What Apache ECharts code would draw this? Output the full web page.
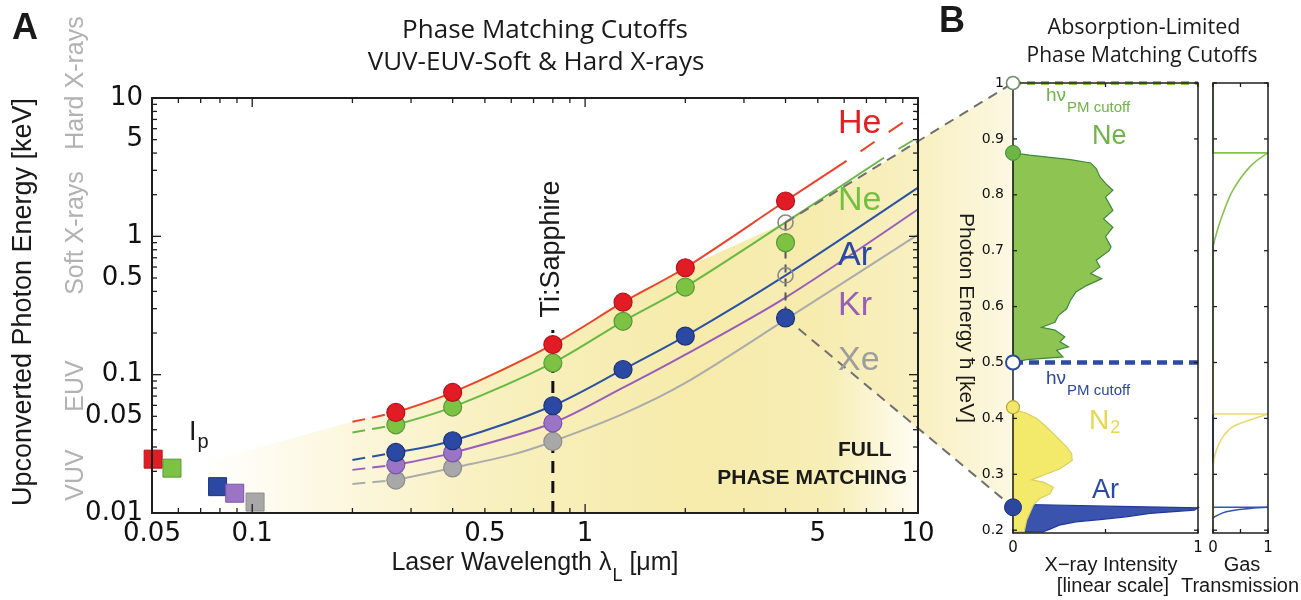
<!DOCTYPE html>
<html>
<head>
<meta charset="utf-8">
<script src="https://cdn.jsdelivr.net/npm/echarts@6/dist/echarts.min.js"></script>
<style>
  html, body { margin: 0; background: #fff; }
  #chart { width: 1301px; height: 600px; }
</style>
</head>
<body>
<div id="chart"></div>
<script>
// ---- panel A: measured cutoffs (filled circles), keV vs laser wavelength (um)
const wavelengths = [0.27, 0.4, 0.8, 1.3, 2, 4]
const heMeasured = [0.0533, 0.0744, 0.165, 0.334, 0.593, 1.80]
const neMeasured = [0.0434, 0.0583, 0.1216, 0.243, 0.43, 0.90]
const arMeasured = [0.0274, 0.0333, 0.0596, 0.109, 0.19, 0.257]
const krMeasured = [0.0223, 0.0272, 0.0447]
const xeMeasured = [0.0173, 0.0212, 0.0329]
// full phase matching cutoff at 4 um (open circles): Ne, Ar
const predictedL = 4
const predicted4um = [1.26, 0.522]

// cutoff curves
const heCurveL = [0.2, 0.27, 0.4, 0.8, 1.3, 2, 4, 6.1, 10]
const heCurveE = [0.0456, 0.0533, 0.0744, 0.165, 0.334, 0.593, 1.80, 3.51, 7.9]
const neCurveL = [0.2, 0.27, 0.4, 0.8, 1.3, 2, 4, 7.9, 10]
const neCurveE = [0.0382, 0.0434, 0.0583, 0.1216, 0.243, 0.43, 1.26, 3.7, 5.2]
const arCurveL = [0.2, 0.27, 0.4, 0.8, 1.3, 2, 4, 10]
const arCurveE = [0.0242, 0.0274, 0.0333, 0.0596, 0.109, 0.19, 0.522, 2.25]
const krCurveL = [0.2, 0.27, 0.4, 0.8, 1.3, 2, 4, 10]
const krCurveE = [0.0205, 0.0223, 0.0272, 0.0447, 0.0805, 0.1396, 0.361, 1.57]
const xeCurveL = [0.2, 0.27, 0.4, 0.6, 0.8, 1.3, 2, 4, 10]
const xeCurveE = [0.0162, 0.0173, 0.0212, 0.0263, 0.0329, 0.052, 0.0871, 0.25, 1.03]

// ionization potentials (squares): He, Ne, Ar, Kr, Xe
const ipWavelength = [0.0504, 0.0574, 0.0787, 0.0886, 0.102]
const ipEnergy = [0.0245, 0.0211, 0.0155, 0.0139, 0.0120]

// upper edge of the shaded phase matching region
const shadeL = [0.07, 0.2, 0.27, 0.4, 0.8, 1.3, 2, 4, 10]
const shadeE = [0.023, 0.0456, 0.0533, 0.0744, 0.165, 0.334, 0.593, 1.26, 4.9]

// Ti:Sapphire marker
const tiSapphireL = 0.8
const tiSapphireTop = 0.21

const xTickLabels = [0.05, 0.1, 0.5, 1, 5, 10]
const xMinorTicks = [0.06, 0.07, 0.08, 0.09, 0.1, 0.2, 0.3, 0.4, 0.5, 0.6, 0.7, 0.8, 0.9, 1, 2, 3, 4, 5, 6, 7, 8, 9]
const yTickLabels = [0.01, 0.05, 0.1, 0.5, 1, 5, 10]
const yMinorTicks = [0.02, 0.03, 0.04, 0.05, 0.06, 0.07, 0.08, 0.09, 0.1, 0.2, 0.3, 0.4, 0.5, 0.6, 0.7, 0.8, 0.9, 1, 2, 3, 4, 5, 6, 7, 8, 9]
const majorTicks = [0.1, 1, 10]

// ---- panel B: spectra (intensity, photon energy keV)
const neSpecI = [0, 0.09, 0.31, 0.42, 0.45, 0.47, 0.51, 0.54, 0.50, 0.54, 0.49, 0.54, 0.50, 0.53, 0.52, 0.45, 0.47, 0.42, 0.48, 0.40, 0.34, 0.31, 0.29, 0.245, 0.227, 0.155, 0.227, 0.28, 0.254, 0.30, 0.236, 0.27, 0.074, 0]
const neSpecE = [0.875, 0.871, 0.863, 0.857, 0.847, 0.832, 0.817, 0.808, 0.796, 0.772, 0.757, 0.742, 0.725, 0.707, 0.700, 0.683, 0.671, 0.659, 0.650, 0.638, 0.626, 0.611, 0.596, 0.584, 0.572, 0.563, 0.558, 0.546, 0.537, 0.528, 0.522, 0.510, 0.505, 0.500]
const n2SpecI = [0, 0.02, 0.074, 0.128, 0.18, 0.236, 0.29, 0.317, 0.32, 0.254, 0.10, 0.164, 0.218, 0.20, 0.146, 0.11, 0.074, 0.06, 0]
const n2SpecE = [0.42, 0.414, 0.409, 0.400, 0.385, 0.367, 0.349, 0.337, 0.325, 0.310, 0.290, 0.286, 0.277, 0.265, 0.257, 0.245, 0.218, 0.197, 0.197]
const arSpecI = [0, 0.09, 0.5, 1.0, 0.98, 0.74, 0.61, 0.47, 0.34, 0.25, 0.2, 0.16, 0]
const arSpecE = [0.245, 0.246, 0.243, 0.240, 0.236, 0.230, 0.224, 0.219, 0.215, 0.209, 0.202, 0.197, 0.197]
// phase matching cutoffs (dashed) and absorption edges (dots)
const neCutoffB = 1.0
const arCutoffB = 0.5
const neEdgeB = 0.875
const n2EdgeB = 0.42
const arEdgeB = 0.241
// gas transmission curves
const neTransI = [1, 0.67, 0.36, 0.18, 0.06, 0]
const neTransE = [0.875, 0.85, 0.808, 0.766, 0.73, 0.707]
const n2TransI = [1, 0.67, 0.36, 0.18, 0.06, 0]
const n2TransE = [0.408, 0.397, 0.385, 0.367, 0.343, 0.313]
const arTransI = [1, 0.67, 0.24, 0.03, 0]
const arTransE = [0.241, 0.239, 0.233, 0.224, 0.221]
const bTicks = [0.2, 0.3, 0.4, 0.5, 0.6, 0.7, 0.8, 0.9, 1]
const bXTicks = [0, 0.5, 1]

const AX = '#1e1e1e'
const SANS = 'Liberation Sans, Arial, sans-serif'
const NUM = 'DejaVu Sans, sans-serif'
const TITLE = 'Open Sans, sans-serif'

const chart = echarts.init(document.getElementById('chart'))

function fmtLog (v) {
  return String(parseFloat(Math.pow(10, v).toPrecision(3)))
}

function pairs (L, E, from, to) {
  const out = []
  L.forEach((l, i) => {
    if (l >= from && l <= to) out.push([l, E[i]])
  })
  return out
}

function valueAxis (gridIndex, position, min, max, labels, fmt, labelStyle) {
  return {
    type: 'value',
    gridIndex,
    position,
    min,
    max,
    z: 5,
    silent: true,
    axisLine: { show: true, onZero: false, lineStyle: { color: AX, width: gridIndex === 0 ? 2 : 1.5 } },
    axisTick: { show: false },
    axisLabel: labels ? Object.assign({ show: true, customValues: labels, formatter: fmt, color: '#111' }, labelStyle) : { show: false },
    splitLine: { show: false }
  }
}

function curve (L, E, color, endSolid) {
  const list = []
  list.push({
    type: 'line', xAxisIndex: 0, yAxisIndex: 0, z: 2, silent: true, symbol: 'none', smooth: 0.3,
    data: pairs(L, E, 0, 0.27),
    lineStyle: { color, width: 2, type: [13, 7] }
  })
  list.push({
    type: 'line', xAxisIndex: 0, yAxisIndex: 0, z: 2, silent: true, symbol: 'none', smooth: 0.3,
    data: pairs(L, E, 0.27, endSolid),
    lineStyle: { color, width: 2 }
  })
  if (endSolid < 10) {
    list.push({
      type: 'line', xAxisIndex: 0, yAxisIndex: 0, z: 2, silent: true, symbol: 'none',
      data: pairs(L, E, endSolid, 10),
      lineStyle: { color, width: 2, type: [17, 17], dashOffset: 17 }
    })
  }
  return list
}

function dots (values, color, border) {
  return {
    type: 'scatter', xAxisIndex: 0, yAxisIndex: 0, z: 4, silent: true, clip: false,
    symbol: 'circle', symbolSize: 18,
    data: values.map((v, i) => [wavelengths[i], v]),
    itemStyle: { color, borderColor: border, borderWidth: 1.2, opacity: 1 }
  }
}

function spectrum (I, E, fill, stroke, z) {
  const data = I.map((v, i) => [v, E[i]])
  return {
    type: 'custom', xAxisIndex: 3, yAxisIndex: 3, z, silent: true, data,
    renderItem: (params, api) => {
      if (params.dataIndex !== 0) return null
      return {
        type: 'polygon',
        shape: { points: data.map(d => api.coord(d)) },
        style: { fill, stroke, lineWidth: 1.2 }
      }
    }
  }
}

function trans (I, E, color, z, smooth) {
  return {
    type: 'line', xAxisIndex: 5, yAxisIndex: 5, z, silent: true, symbol: 'none', clip: false,
    smooth: smooth ? 0.4 : false,
    data: I.map((v, i) => [v, E[i]]),
    lineStyle: { color, width: 1.6 }
  }
}

const shadeGradient = new echarts.graphic.LinearGradient(0, 0, 1, 0, [
  { offset: 0, color: 'rgba(255,255,255,1)' },
  { offset: 0.2, color: '#fcf7de' },
  { offset: 0.4, color: '#f8f0bf' },
  { offset: 0.7, color: '#f6ebaa' },
  { offset: 0.88, color: '#f7eeb7' },
  { offset: 1, color: '#fffdf4' }
])

const option = {
  animation: false,
  backgroundColor: '#fff',
  grid: [
    { left: 152, top: 98, width: 766, height: 415, outerBoundsMode: 'none' },
    { left: 1013, top: 83, width: 185, height: 450, outerBoundsMode: 'none' },
    { left: 1213, top: 83, width: 55, height: 450, outerBoundsMode: 'none' }
  ],
  xAxis: [
    { type: 'log', gridIndex: 0, min: 0.05, max: 10, show: false },
    valueAxis(0, 'bottom', Math.log10(0.05), Math.log10(10), xTickLabels.map(Math.log10), fmtLog,
      { fontSize: 26, fontFamily: NUM, margin: 8 }),
    valueAxis(0, 'top', Math.log10(0.05), Math.log10(10)),
    valueAxis(1, 'bottom', 0, 1, [0, 1], v => String(v), { fontSize: 15, fontFamily: NUM, margin: 8 }),
    valueAxis(1, 'top', 0, 1),
    valueAxis(2, 'bottom', 0, 1, [0, 1], v => String(v), { fontSize: 15, fontFamily: NUM, margin: 8 }),
    valueAxis(2, 'top', 0, 1)
  ],
  yAxis: [
    { type: 'log', gridIndex: 0, min: 0.01, max: 10, show: false },
    valueAxis(0, 'left', Math.log10(0.01), Math.log10(10), yTickLabels.map(Math.log10), fmtLog,
      { fontSize: 26, fontFamily: NUM, margin: 9 }),
    valueAxis(0, 'right', Math.log10(0.01), Math.log10(10)),
    valueAxis(1, 'left', 0.195, 1, bTicks, v => String(parseFloat(v.toFixed(1))), { fontSize: 14, fontFamily: NUM, margin: 9 }),
    valueAxis(1, 'right', 0.195, 1),
    valueAxis(2, 'left', 0.195, 1),
    valueAxis(2, 'right', 0.195, 1)
  ],
  series: [
    // shaded phase matching region
    {
      type: 'line', xAxisIndex: 0, yAxisIndex: 0, z: 0, silent: true, symbol: 'none',
      data: shadeL.map((l, i) => [l, shadeE[i]]),
      lineStyle: { width: 0, opacity: 0 },
      areaStyle: { origin: 'start', color: shadeGradient, opacity: 1 }
    },
    // Ti:Sapphire wavelength
    {
      type: 'line', xAxisIndex: 0, yAxisIndex: 0, z: 3, silent: true, symbol: 'none',
      data: [[tiSapphireL, 0.01], [tiSapphireL, tiSapphireTop]],
      lineStyle: { color: '#111', width: 3, type: [12, 8] }
    },
    ...curve(xeCurveL, xeCurveE, '#ababab', 10),
    ...curve(krCurveL, krCurveE, '#9a5cbc', 10),
    ...curve(arCurveL, arCurveE, '#2c52a3', 10),
    ...curve(neCurveL, neCurveE, '#68b944', 7.9),
    ...curve(heCurveL, heCurveE, '#ec4329', 6.1),
    // 4 um vertical marker
    {
      type: 'line', xAxisIndex: 0, yAxisIndex: 0, z: 3, silent: true, symbol: 'none',
      data: [[predictedL, predicted4um[0]], [predictedL, arMeasured[5]]],
      lineStyle: { color: '#555', width: 2, type: [8, 6] }
    },
    dots(xeMeasured, '#a8a8a8', '#8c8c8c'),
    dots(krMeasured, '#9b74c6', '#7b55a8'),
    dots(arMeasured, '#2b48a2', '#1c3278'),
    dots(neMeasured, '#7dc243', '#58993a'),
    dots(heMeasured, '#e11c24', '#b3131b'),
    {
      type: 'scatter', xAxisIndex: 0, yAxisIndex: 0, z: 5, silent: true, clip: false,
      symbol: 'circle', symbolSize: 15,
      data: predicted4um.map(v => [predictedL, v]),
      itemStyle: { color: 'rgba(255,255,255,0)', borderColor: '#8a8a8a', borderWidth: 1.6, opacity: 1 }
    },
    {
      type: 'scatter', xAxisIndex: 0, yAxisIndex: 0, z: 4, silent: true, clip: false,
      symbol: 'rect', symbolSize: 18,
      data: ipWavelength.map((l, i) => ({
        value: [l, ipEnergy[i]],
        itemStyle: {
          color: ['#e11c24', '#7dc243', '#2b48a2', '#9b74c6', '#a8a8a8'][i],
          borderColor: ['#b3131b', '#58993a', '#1c3278', '#7b55a8', '#8c8c8c'][i],
          borderWidth: 1,
          opacity: 1
        }
      }))
    },
    // panel B spectra
    spectrum(neSpecI, neSpecE, '#8dc452', '#3f8a39', 2),
    spectrum(arSpecI, arSpecE, '#3a53ad', '#22399a', 2),
    spectrum(n2SpecI, n2SpecE, '#f3ea6c', '#dcd05a', 3),
    {
      type: 'line', xAxisIndex: 3, yAxisIndex: 3, z: 4, silent: true, symbol: 'none', clip: false,
      data: [[0, neCutoffB], [1, neCutoffB]],
      lineStyle: { color: '#8cc63f', width: 4, type: [8, 6] }
    },
    {
      type: 'line', xAxisIndex: 3, yAxisIndex: 3, z: 4, silent: true, symbol: 'none', clip: false,
      data: [[0, arCutoffB], [1, arCutoffB]],
      lineStyle: { color: '#2c4aa3', width: 4.5, type: [10, 6] }
    },
    {
      type: 'scatter', xAxisIndex: 3, yAxisIndex: 3, z: 6, silent: true, clip: false,
      symbol: 'circle',
      data: [
        { value: [0, neCutoffB], symbolSize: 13, itemStyle: { color: '#fff', borderColor: '#6f8f6a', borderWidth: 1.6, opacity: 1 } },
        { value: [0, neEdgeB], symbolSize: 15, itemStyle: { color: '#6db544', borderColor: '#3f8a35', borderWidth: 1, opacity: 1 } },
        { value: [0, arCutoffB], symbolSize: 14, itemStyle: { color: '#fff', borderColor: '#2c4a9e', borderWidth: 2, opacity: 1 } },
        { value: [0, n2EdgeB], symbolSize: 13, itemStyle: { color: '#f3e76a', borderColor: '#b5a53e', borderWidth: 1.2, opacity: 1 } },
        { value: [0, arEdgeB], symbolSize: 17, itemStyle: { color: '#2b47a0', borderColor: '#1c3278', borderWidth: 1, opacity: 1 } }
      ]
    },
    // gas transmission
    trans([0, 0, 1], [1, neEdgeB, neEdgeB], '#86c34a', 2, false),
    trans(neTransI, neTransE, '#86c34a', 2, true),
    trans([0, 0], [neTransE[neTransE.length - 1], 0.195], '#86c34a', 2, false),
    trans([0, 0, 1], [0.408, arEdgeB, arEdgeB], '#3354b0', 3, false),
    trans(arTransI, arTransE, '#3354b0', 3, true),
    trans([0, 0], [arTransE[arTransE.length - 1], 0.195], '#3354b0', 3, false),
    trans([0, 0, 1], [0.5, n2TransE[0], n2TransE[0]], '#ead776', 4, false),
    trans(n2TransI, n2TransE, '#ead776', 4, true),
    trans([0, 0], [n2TransE[n2TransE.length - 1], 0.195], '#e3cf7a', 4, false)
  ]
}

chart.setOption(option)

function txt (text, x, y, o) {
  o = o || {}
  return {
    type: 'text', x, y, z: 10, silent: true, rotation: o.rotation || 0,
    style: {
      text,
      fill: o.color || '#1a1a1a',
      fontSize: o.size || 20,
      fontFamily: o.family || SANS,
      fontWeight: o.weight || 'normal',
      align: o.align || 'center',
      verticalAlign: 'middle',
      textAlign: o.align || 'center',
      textVerticalAlign: 'middle',
      rich: o.rich
    }
  }
}

function subRich (main, sub, pad, family) {
  return {
    a: { fontSize: main, fontFamily: family || SANS },
    b: { fontSize: sub, fontFamily: family || SANS, padding: [pad, 0, 0, 1] }
  }
}

// inward tick marks on all four sides of a frame, placed through the axes' scales
function frameTicks (xi, yi, xTicks, yTicks, xRef, yRef, lenOf) {
  const out = []
  const lo = chart.convertToPixel({ xAxisIndex: xi, yAxisIndex: yi }, [xRef[0], yRef[0]])
  const hi = chart.convertToPixel({ xAxisIndex: xi, yAxisIndex: yi }, [xRef[1], yRef[1]])
  const line = (x1, y1, x2, y2) => ({
    type: 'line', z: 6, silent: true,
    shape: { x1, y1, x2, y2 },
    style: { stroke: AX, lineWidth: 1.3 }
  })
  xTicks.forEach(v => {
    const x = chart.convertToPixel({ xAxisIndex: xi, yAxisIndex: yi }, [v, yRef[0]])[0]
    const len = lenOf(v)
    out.push(line(x, lo[1], x, lo[1] - len), line(x, hi[1], x, hi[1] + len))
  })
  yTicks.forEach(v => {
    const y = chart.convertToPixel({ xAxisIndex: xi, yAxisIndex: yi }, [xRef[0], v])[1]
    const len = lenOf(v)
    out.push(line(lo[0], y, lo[0] + len, y), line(hi[0], y, hi[0] - len, y))
  })
  return out
}

// zoom connection between panels
const aTop = chart.convertToPixel({ xAxisIndex: 0, yAxisIndex: 0 }, [predictedL, predicted4um[0]])
const aBot = chart.convertToPixel({ xAxisIndex: 0, yAxisIndex: 0 }, [predictedL, arMeasured[5]])
const bTop = chart.convertToPixel({ xAxisIndex: 3, yAxisIndex: 3 }, [0, neCutoffB])
const bBot = chart.convertToPixel({ xAxisIndex: 3, yAxisIndex: 3 }, [0, arEdgeB])

const zoomFill = new echarts.graphic.LinearGradient(0, 0, 1, 0, [
  { offset: 0, color: '#f6ebaa' },
  { offset: 0.6, color: '#f8f0c2' },
  { offset: 1, color: '#fcf8e2' }
])

const GREY = '#b2b2b2'
const graphics = [
  { type: 'polygon', z: 1, silent: true, shape: { points: [aTop, bTop, bBot, aBot] }, style: { fill: zoomFill } },
  { type: 'polyline', z: 3, silent: true, shape: { points: [aTop, bTop] }, style: { stroke: '#707070', lineWidth: 2, lineDash: [10, 7], fill: null } },
  { type: 'polyline', z: 3, silent: true, shape: { points: [aBot, bBot] }, style: { stroke: '#707070', lineWidth: 2, lineDash: [10, 7], fill: null } },

  ...frameTicks(0, 0, xMinorTicks, yMinorTicks, [0.05, 10], [0.01, 10], v => (majorTicks.includes(v) ? 9 : 5)),
  ...frameTicks(3, 3, bXTicks, bTicks, [0, 1], [0.195, 1], () => 4),
  ...frameTicks(5, 5, bXTicks, bTicks, [0, 1], [0.195, 1], () => 4),

  txt('A', 25, 29, { size: 36, weight: 'bold' }),
  txt('B', 952, 22, { size: 36, weight: 'bold' }),
  txt('Phase Matching Cutoffs', 545, 31, { size: 26, family: TITLE }),
  txt('VUV-EUV-Soft & Hard X-rays', 536, 63, { size: 26, family: TITLE }),
  txt('Upconverted Photon Energy [keV]', 24, 302, { size: 27, rotation: Math.PI / 2 }),
  txt('Hard X-rays', 76, 83, { size: 25, color: GREY, rotation: Math.PI / 2 }),
  txt('Soft X-rays', 76, 233, { size: 25, color: GREY, rotation: Math.PI / 2 }),
  txt('EUV', 76, 386, { size: 25, color: GREY, rotation: Math.PI / 2 }),
  txt('VUV', 76, 475, { size: 25, color: GREY, rotation: Math.PI / 2 }),
  txt('{a|Laser Wavelength λ}{b|L}{a| [μm]}', 535, 563, { rich: subRich(25, 18, 26) }),
  txt('{a|I}{b|p}', 189, 433, { align: 'left', rich: subRich(27, 20, 18) }),
  txt('He', 838, 124, { size: 34, color: '#e31e24', align: 'left' }),
  txt('Ne', 838, 201, { size: 34, color: '#72bf44', align: 'left' }),
  txt('Ar', 838, 256, { size: 34, color: '#2b48a2', align: 'left' }),
  txt('Kr', 838, 306, { size: 34, color: '#9561b5', align: 'left' }),
  txt('Xe', 838, 361, { size: 34, color: '#9d9d9d', align: 'left' }),
  txt('Ti:Sapphire', 552, 249, { size: 27, rotation: Math.PI / 2 }),
  txt('FULL', 838, 450, { size: 21, weight: 'bold', align: 'left' }),
  txt('PHASE MATCHING', 907, 478, { size: 21, weight: 'bold', align: 'right' }),

  txt('Absorption-Limited', 1144, 28, { size: 21.5, family: TITLE }),
  txt('Phase Matching Cutoffs', 1142, 56, { size: 21, family: TITLE }),
  txt('{a|hν}{b|PM cutoff}', 1046, 96, { align: 'left', color: '#6db544', rich: subRich(19, 15, 24) }),
  txt('Ne', 1092, 137, { size: 27, color: '#6db544', align: 'left' }),
  txt('{a|hν}{b|PM cutoff}', 1046, 379, { align: 'left', color: '#2c4a9e', rich: subRich(19, 15, 24) }),
  txt('{a|N}{b|2}', 1089, 421, { align: 'left', color: '#e6d84c', rich: subRich(28, 18, 14) }),
  txt('Ar', 1092, 491, { size: 27, color: '#2b48a2', align: 'left' }),
  txt('Photon Energy ħ [keV]', 966, 318, { size: 21, rotation: -Math.PI / 2 }),
  txt('X−ray Intensity', 1111, 565, { size: 20 }),
  txt('[linear scale]', 1113, 586, { size: 20 }),
  txt('Gas', 1242, 565, { size: 20 }),
  txt('Transmission', 1240, 586, { size: 20 })
]

chart.setOption({ graphic: graphics })
</script>
</body>
</html>
